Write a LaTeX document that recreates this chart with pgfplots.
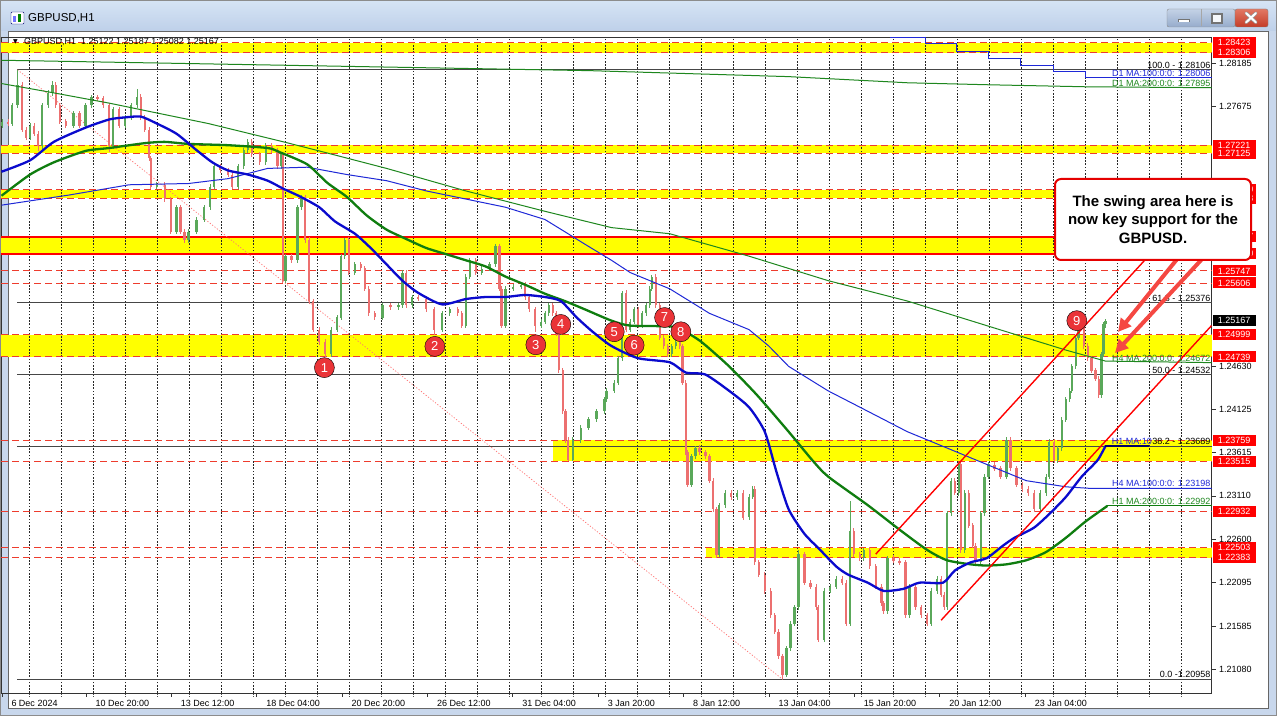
\documentclass[border=0pt]{standalone}
\usepackage{pgfplots}
\usepackage{pgfplotstable}
\pgfplotsset{compat=1.18}
\usepackage{fontspec}
\setmainfont{Liberation Sans}
\newfontfamily\dejavu{DejaVu Sans}
\usetikzlibrary{arrows.meta}
\newcommand\lab{\fontsize{9}{10}\selectfont}

\definecolor{winframe}{RGB}{200,215,236}
\definecolor{titletop}{RGB}{214,228,245}
\definecolor{titlebot}{RGB}{190,208,233}
\definecolor{btntop}{RGB}{196,210,230}
\definecolor{btnbot}{RGB}{150,172,204}
\definecolor{closetop}{RGB}{226,120,100}
\definecolor{closebot}{RGB}{196,60,40}
\definecolor{bandyellow}{RGB}{255,255,0}
\definecolor{lvlred}{RGB}{238,60,45}
\definecolor{candleup}{RGB}{90,168,90}
\definecolor{candledn}{RGB}{236,112,112}
\definecolor{maBlue}{RGB}{10,10,205}
\definecolor{maGreen}{RGB}{15,125,15}
\definecolor{thinBlue}{RGB}{30,40,215}
\definecolor{thinGreen}{RGB}{30,135,30}
\definecolor{circred}{RGB}{234,52,56}
\definecolor{arrowred}{RGB}{245,72,66}
\definecolor{fibgray}{RGB}{70,70,70}

% up candles: x = hour index, o h l c = price
\pgfplotstableread{
x o h l c
1.4 1.27450 1.27529 1.27420 1.27499
8.8 1.27475 1.27720 1.27445 1.27690
12.7 1.27690 1.28106 1.27660 1.27930
22.2 1.27308 1.27481 1.27278 1.27451
31.1 1.27212 1.27720 1.27182 1.27690
35.6 1.27690 1.27864 1.27660 1.27834
39.1 1.27834 1.27977 1.27804 1.27930
54.8 1.27451 1.27625 1.27421 1.27595
63.8 1.27451 1.27720 1.27421 1.27690
68.2 1.27690 1.27816 1.27660 1.27786
84.5 1.27212 1.27672 1.27182 1.27642
93.4 1.27451 1.27577 1.27421 1.27547
97.9 1.27547 1.27720 1.27517 1.27690
102.4 1.27690 1.27882 1.27660 1.27786
117.2 1.26733 1.26790 1.26703 1.26760
132.0 1.26207 1.26524 1.26177 1.26494
141.0 1.26111 1.26237 1.26081 1.26207
146.9 1.26207 1.26380 1.26177 1.26350
152.8 1.26350 1.26524 1.26320 1.26494
157.3 1.26494 1.26763 1.26464 1.26733
160.2 1.26733 1.27003 1.26703 1.26973
178.1 1.26733 1.27003 1.26703 1.26973
182.5 1.26973 1.27194 1.26943 1.27164
185.5 1.27164 1.27290 1.27134 1.27260
198.8 1.27020 1.27242 1.26990 1.27212
210.7 1.26973 1.27146 1.26943 1.27116
213.7 1.25633 1.25950 1.25603 1.25920
222.6 1.25872 1.26524 1.25842 1.26494
225.6 1.26494 1.26638 1.26464 1.26614
247.8 1.24771 1.25089 1.24741 1.25059
252.3 1.25059 1.25232 1.25029 1.25202
255.3 1.25202 1.25950 1.25172 1.25920
258.2 1.25920 1.26135 1.25890 1.26111
265.7 1.25728 1.25854 1.25698 1.25824
286.4 1.25202 1.25376 1.25172 1.25346
298.3 1.25320 1.25376 1.25290 1.25346
301.3 1.25346 1.25758 1.25316 1.25728
308.7 1.25346 1.25471 1.25316 1.25441
331.0 1.25059 1.25280 1.25029 1.25250
336.9 1.25250 1.25328 1.25220 1.25298
348.8 1.25106 1.25711 1.25076 1.25681
351.7 1.25681 1.25902 1.25651 1.25872
360.7 1.25728 1.25806 1.25698 1.25776
366.6 1.25776 1.25854 1.25746 1.25824
371.1 1.25824 1.26063 1.25794 1.26039
378.5 1.25106 1.25567 1.25076 1.25537
384.4 1.25537 1.25590 1.25507 1.25560
390.4 1.25560 1.25615 1.25530 1.25585
405.2 1.25106 1.25184 1.25076 1.25154
408.2 1.25154 1.25280 1.25124 1.25250
411.1 1.25250 1.25376 1.25220 1.25346
429.0 1.23527 1.23797 1.23515 1.23767
434.9 1.23767 1.23940 1.23737 1.23910
440.8 1.23910 1.24036 1.23880 1.24006
446.8 1.24006 1.24132 1.23976 1.24102
452.7 1.24102 1.24275 1.24072 1.24245
454.2 1.24245 1.24371 1.24215 1.24341
460.1 1.24341 1.24466 1.24311 1.24436
463.1 1.24436 1.24754 1.24406 1.24724
466.1 1.24724 1.25513 1.24694 1.25489
472.0 1.25059 1.25184 1.25029 1.25154
475.0 1.25154 1.25328 1.25124 1.25298
480.9 1.25106 1.25280 1.25076 1.25250
483.9 1.25250 1.25376 1.25220 1.25346
486.8 1.25346 1.25567 1.25316 1.25537
488.3 1.25537 1.25705 1.25507 1.25681
503.2 1.24771 1.24897 1.24741 1.24867
506.1 1.24867 1.24945 1.24837 1.24915
518.0 1.23240 1.23605 1.23210 1.23575
521.0 1.23575 1.23701 1.23545 1.23671
538.8 1.22420 1.23031 1.22390 1.23001
543.2 1.23001 1.23175 1.22971 1.23145
552.2 1.23097 1.23175 1.23067 1.23145
561.1 1.22857 1.23127 1.22827 1.23097
564.0 1.23097 1.23222 1.23067 1.23192
589.3 1.21015 1.21356 1.20985 1.21326
592.2 1.21326 1.21643 1.21296 1.21613
595.2 1.21613 1.21835 1.21583 1.21805
598.2 1.21805 1.22475 1.21775 1.22426
617.5 1.21422 1.22026 1.21392 1.21996
621.9 1.21996 1.22074 1.21966 1.22044
626.4 1.22044 1.22170 1.22014 1.22140
636.8 1.21613 1.23049 1.21583 1.22700
647.2 1.22379 1.22505 1.22349 1.22475
665.0 1.21757 1.22409 1.21727 1.22379
681.3 1.21709 1.22074 1.21679 1.22044
697.6 1.21613 1.22026 1.21583 1.21996
702.1 1.21996 1.22170 1.21966 1.22140
709.5 1.21805 1.22935 1.21775 1.22905
712.5 1.22905 1.23318 1.22875 1.23288
718.4 1.23145 1.23509 1.23115 1.23479
722.9 1.22475 1.23175 1.22445 1.23145
734.8 1.22331 1.22935 1.22301 1.22905
737.7 1.22905 1.23366 1.22875 1.23336
740.7 1.23336 1.23509 1.23306 1.23479
754.1 1.23336 1.23797 1.23306 1.23767
779.3 1.22953 1.23175 1.22923 1.23145
783.7 1.23145 1.23366 1.23115 1.23336
786.1 1.23336 1.23773 1.23306 1.23743
792.6 1.23527 1.23701 1.23497 1.23671
795.6 1.23671 1.24036 1.23641 1.24006
798.6 1.24006 1.24275 1.23976 1.24245
801.5 1.24245 1.24371 1.24215 1.24341
803.0 1.24341 1.24658 1.24311 1.24628
806.0 1.24628 1.24993 1.24598 1.24963
808.1 1.24963 1.25130 1.24933 1.25106
825.3 1.24293 1.24802 1.24263 1.24772
826.8 1.24772 1.25152 1.24742 1.25122
828.3 1.25122 1.25187 1.25082 1.25167
}\upc

% down candles
\pgfplotstableread{
x o h l c
5.9 1.27499 1.27529 1.27445 1.27475
16.3 1.27930 1.27960 1.27373 1.27403
19.2 1.27403 1.27433 1.27278 1.27308
25.2 1.27451 1.27481 1.27325 1.27355
28.1 1.27355 1.27385 1.27150 1.27212
41.5 1.27930 1.27960 1.27660 1.27690
44.5 1.27690 1.27720 1.27469 1.27499
48.9 1.27499 1.27529 1.27421 1.27451
59.3 1.27595 1.27625 1.27421 1.27451
72.7 1.27786 1.27816 1.27740 1.27770
77.1 1.27770 1.27800 1.27660 1.27690
81.6 1.27690 1.27720 1.27140 1.27212
89.0 1.27642 1.27672 1.27421 1.27451
105.3 1.27786 1.27816 1.27517 1.27547
108.3 1.27547 1.27577 1.27373 1.27403
111.3 1.27403 1.27433 1.27038 1.27068
112.7 1.27068 1.27098 1.26703 1.26733
123.1 1.26760 1.26790 1.26560 1.26590
127.6 1.26590 1.26620 1.26177 1.26207
135.0 1.26494 1.26524 1.26177 1.26207
138.0 1.26207 1.26237 1.26081 1.26111
164.7 1.26973 1.27003 1.26895 1.26925
170.6 1.26925 1.26955 1.26847 1.26877
173.6 1.26877 1.26907 1.26703 1.26733
188.5 1.27260 1.27290 1.27086 1.27116
194.4 1.27116 1.27146 1.26990 1.27020
203.3 1.27212 1.27242 1.27134 1.27164
207.7 1.27164 1.27194 1.26943 1.26973
211.6 1.27116 1.27146 1.25603 1.25633
218.1 1.25920 1.25950 1.25842 1.25872
228.5 1.26614 1.26644 1.26081 1.26111
231.5 1.26111 1.26141 1.25364 1.25394
234.5 1.25394 1.25424 1.25029 1.25059
238.9 1.25059 1.25089 1.24885 1.24915
243.4 1.24915 1.24945 1.24739 1.24771
261.2 1.26111 1.26141 1.25698 1.25728
270.1 1.25824 1.25854 1.25746 1.25776
273.1 1.25776 1.25806 1.25507 1.25537
276.0 1.25537 1.25567 1.25220 1.25250
280.5 1.25250 1.25280 1.25172 1.25202
292.4 1.25346 1.25376 1.25290 1.25320
304.2 1.25728 1.25758 1.25316 1.25346
313.2 1.25441 1.25471 1.25390 1.25420
319.1 1.25420 1.25450 1.25268 1.25298
325.0 1.25298 1.25328 1.25000 1.25059
342.8 1.25298 1.25328 1.25220 1.25250
345.8 1.25250 1.25280 1.25076 1.25106
356.2 1.25872 1.25902 1.25698 1.25728
374.0 1.26039 1.26069 1.25507 1.25537
375.5 1.25537 1.25567 1.25076 1.25106
393.3 1.25585 1.25615 1.25411 1.25441
396.3 1.25441 1.25471 1.25268 1.25298
400.7 1.25298 1.25328 1.25030 1.25106
414.1 1.25346 1.25376 1.25220 1.25250
416.5 1.25250 1.25280 1.24981 1.25011
418.6 1.25011 1.25041 1.24550 1.24580
421.5 1.24580 1.24610 1.24072 1.24102
423.6 1.24102 1.24132 1.23737 1.23767
425.4 1.23767 1.23797 1.23515 1.23527
469.0 1.25489 1.25519 1.25029 1.25059
477.9 1.25298 1.25328 1.25076 1.25106
491.3 1.25681 1.25711 1.25316 1.25346
494.3 1.25346 1.25376 1.24933 1.24963
497.2 1.24963 1.24993 1.24837 1.24867
500.2 1.24867 1.24897 1.24741 1.24771
509.1 1.24915 1.24999 1.24837 1.24867
511.2 1.24867 1.24897 1.24406 1.24436
513.6 1.24436 1.24466 1.23593 1.23623
515.0 1.23623 1.23653 1.23210 1.23240
524.0 1.23671 1.23701 1.23593 1.23623
528.4 1.23623 1.23653 1.23545 1.23575
531.4 1.23575 1.23605 1.23258 1.23288
534.3 1.23288 1.23318 1.22923 1.22953
536.7 1.22953 1.22983 1.22383 1.22420
547.7 1.23145 1.23175 1.23067 1.23097
556.6 1.23145 1.23175 1.22827 1.22857
565.5 1.23192 1.23222 1.22301 1.22331
568.5 1.22331 1.22361 1.22157 1.22187
572.9 1.22187 1.22217 1.21966 1.21996
577.4 1.21996 1.22026 1.21679 1.21709
580.4 1.21709 1.21739 1.21488 1.21518
583.3 1.21518 1.21548 1.21201 1.21231
586.3 1.21231 1.21261 1.20958 1.21015
602.6 1.22426 1.22456 1.22062 1.22092
607.1 1.22092 1.22122 1.22014 1.22044
611.5 1.22044 1.22074 1.21775 1.21805
613.0 1.21805 1.21835 1.21392 1.21422
630.8 1.22140 1.22170 1.22062 1.22092
633.8 1.22092 1.22122 1.21583 1.21613
639.7 1.22700 1.22730 1.22396 1.22426
644.2 1.22426 1.22456 1.22349 1.22379
651.6 1.22475 1.22505 1.22253 1.22283
656.1 1.22283 1.22313 1.22014 1.22044
660.5 1.22044 1.22074 1.21822 1.21852
662.0 1.21852 1.21882 1.21727 1.21757
669.4 1.22379 1.22420 1.22320 1.22350
673.9 1.22350 1.22380 1.22301 1.22331
678.3 1.22331 1.22361 1.21679 1.21709
685.8 1.22044 1.22074 1.21775 1.21805
690.2 1.21805 1.21835 1.21679 1.21709
694.7 1.21709 1.21739 1.21583 1.21613
705.1 1.22140 1.22170 1.21919 1.21949
707.4 1.21949 1.21979 1.21775 1.21805
715.4 1.23288 1.23318 1.23115 1.23145
719.9 1.23479 1.23509 1.22445 1.22475
725.8 1.23145 1.23175 1.22732 1.22762
728.8 1.22762 1.22792 1.22493 1.22523
730.9 1.22523 1.22553 1.22301 1.22331
745.1 1.23479 1.23509 1.23402 1.23432
749.6 1.23432 1.23462 1.23306 1.23336
757.0 1.23767 1.23797 1.23402 1.23432
761.5 1.23432 1.23462 1.23210 1.23240
765.9 1.23240 1.23270 1.23162 1.23192
770.4 1.23192 1.23222 1.23115 1.23145
774.8 1.23145 1.23175 1.22923 1.22953
789.7 1.23743 1.23773 1.23497 1.23527
812.0 1.25106 1.25136 1.24837 1.24867
815.0 1.24867 1.24897 1.24694 1.24724
817.9 1.24724 1.24754 1.24550 1.24580
820.9 1.24580 1.24610 1.24454 1.24484
823.2 1.24484 1.24514 1.24263 1.24293
}\dnc

\begin{document}
\begin{tikzpicture}[x=1pt,y=1pt,
  mal/.style={anchor=base east, inner sep=0.5pt, font=\lab, yshift=1.5pt},
  ptag/.style={anchor=west, fill=red, text=white, font=\lab, inner sep=0pt, minimum width=43pt, minimum height=11pt},
  num/.style={text=white, font=\fontsize{13}{13}\selectfont, inner sep=0pt}]
\useasboundingbox (0,0) rectangle (1277,716);
% window frame and title bar
\fill[winframe] (0,0) rectangle (1277,716);
\shade[top color=titletop, bottom color=titlebot] (0,685) rectangle (1277,716);
\draw[black!45] (0.5,0.5) rectangle (1276.5,715.5);
\fill[white] (9,8) rectangle (1268,684);
\draw[black!60] (8.5,7.5) rectangle (1268.5,684.5);
% title icon and text
\draw[fill=white, draw=blue!45!black, rounded corners=1pt] (11,692) rectangle (24,704);
\fill[blue!55] (13,694) rectangle (16,700);
\fill[green!50!black] (17.5,694) rectangle (20.5,702);
\node[anchor=west, inner sep=0pt, font=\fontsize{11.5}{12}\selectfont] at (28,697.5) {GBPUSD,H1};
% window buttons
\shade[top color=btntop, bottom color=btnbot, draw=black!45, rounded corners=2pt] (1167,689) rectangle (1235,707);
\draw[black!35] (1201,689.5) -- (1201,706.5);
\shade[top color=closetop, bottom color=closebot, draw=black!50, rounded corners=2pt] (1235,689) rectangle (1268,707);
\draw[line width=3pt, black!55] (1178,695) -- (1190,695);
\draw[line width=1.8pt, white] (1178.8,695) -- (1189.2,695);
\draw[line width=1.2pt, black!55, fill=white!85!btntop] (1212,693) rectangle (1222,702);
\draw[line width=3.4pt, black!40, line cap=round] (1246,693.5) -- (1256,703) (1246,703) -- (1256,693.5);
\draw[line width=2pt, white, line cap=round] (1246,693.5) -- (1256,703) (1246,703) -- (1256,693.5);

\begin{axis}[
  at={(11,27)}, anchor=south west,
  scale only axis, width=1210pt, height=656pt,
  xmin=0.75, xmax=907.8, ymin=1.20799, ymax=1.28490,
  clip=false,
  axis line style={draw=black!80, line width=0.8pt},
  tick align=outside,
  major tick length=4pt, minor tick length=4pt,
  tick style={black!80, line width=0.6pt},
  xtick={1,64,128,192,256,320,384,448,512,576,640,704,768},
  xticklabels={6 Dec 2024,10 Dec 20:00,13 Dec 12:00,18 Dec 04:00,20 Dec 20:00,26 Dec 12:00,31 Dec 04:00,3 Jan 20:00,8 Jan 12:00,13 Jan 04:00,15 Jan 20:00,20 Jan 12:00,23 Jan 04:00},
  xtick pos=bottom,
  xticklabel style={anchor=north west, font=\lab, inner xsep=0pt, xshift=9.5pt},
  minor xtick={21.74,45.73,69.72,93.71,117.70,141.69,165.68,189.67,213.66,237.65,261.64,285.63,309.62,333.61,357.60,381.59,405.58,429.57,453.56,477.55,501.54,525.53,549.52,573.51,597.50,621.49,645.48,669.47,693.46,717.45,741.44,765.43,789.42,813.41,837.40,861.39,885.38},
  minor tick style={black!70, dash pattern=on 1.2pt off 1.2pt},
  ytick={1.21080,1.21585,1.22095,1.22600,1.23110,1.23615,1.24125,1.24630,1.27675,1.28185},
  yticklabels={1.21080,1.21585,1.22095,1.22600,1.23110,1.23615,1.24125,1.24630,1.27675,1.28185},
  ytick pos=right,
  yticklabel style={anchor=west, font=\lab},
  band/.style={bandyellow},
  lvl/.style={lvlred, line width=0.9pt, dash pattern=on 7pt off 4pt},
  fibl/.style={fibgray, line width=0.8pt},
  gridl/.style={black!85, line width=1pt, dash pattern=on 1.6pt off 1.6pt},
]
% yellow zones (line width = zone height in px)
\addplot[band, line width=9.98pt] coordinates {(0.75,1.283645) (907.8,1.283645)};
\addplot[band, line width=8.19pt] coordinates {(0.75,1.27173) (907.8,1.27173)};
\addplot[band, line width=8.70pt] coordinates {(0.75,1.26649) (907.8,1.26649)};
\addplot[band, line width=16.80pt] coordinates {(0.75,1.260485) (907.8,1.260485)};
\addplot[band, line width=22.18pt] coordinates {(0.75,1.24869) (907.8,1.24869)};
\addplot[band, line width=20.81pt] coordinates {(414.5,1.23637) (907.8,1.23637)};
\addplot[band, line width=10.24pt] coordinates {(529.2,1.22443) (907.8,1.22443)};
% vertical dotted grid
\pgfplotsinvokeforeach{21.74,45.73,69.72,93.71,117.70,141.69,165.68,189.67,213.66,237.65,261.64,285.63,309.62,333.61,357.60,381.59,405.58,429.57,453.56,477.55,501.54,525.53,549.52,573.51,597.50,621.49,645.48,669.47,693.46,717.45,741.44,765.43,789.42,813.41,837.40,861.39,885.38}{
  \addplot[gridl] coordinates {(#1,1.20799) (#1,1.28490)};
}
% level lines
\pgfplotsinvokeforeach{1.28423,1.28306,1.27221,1.27125,1.26700,1.26598,1.25747,1.25606,1.24999,1.24739,1.23759,1.23515,1.22932,1.22503,1.22383}{
  \addplot[lvl] coordinates {(0.75,#1) (907.8,#1)};
}
\addplot[red, line width=2.2pt] coordinates {(0.75,1.26147) (907.8,1.26147)};
\addplot[red, line width=2.2pt] coordinates {(0.75,1.25950) (907.8,1.25950)};
% fibonacci levels and trend line
\pgfplotsinvokeforeach{1.28106,1.25376,1.24532,1.23689,1.20958}{
  \addplot[fibl] coordinates {(12.7,#1) (907.8,#1)};
}
\addplot[red!55, line width=0.7pt, dash pattern=on 1.2pt off 1.8pt] coordinates {(12.7,1.28106) (586.3,1.20958)};

% candles
\addplot[draw=none, mark=none, error bars/.cd, y dir=both, y explicit,
  error mark=none, error bar style={draw=candleup, line width=0.9pt}]
  table[x=x, y expr=(\thisrow{h}+\thisrow{l})/2, y error expr=(\thisrow{h}-\thisrow{l})/2] {\upc};
\addplot[draw=none, mark=none, error bars/.cd, y dir=both, y explicit,
  error mark=none, error bar style={draw=candleup, line width=2.3pt}]
  table[x=x, y expr=(\thisrow{o}+\thisrow{c})/2, y error expr=abs(\thisrow{c}-\thisrow{o})/2] {\upc};
\addplot[draw=none, mark=none, error bars/.cd, y dir=both, y explicit,
  error mark=none, error bar style={draw=candledn, line width=0.9pt}]
  table[x=x, y expr=(\thisrow{h}+\thisrow{l})/2, y error expr=(\thisrow{h}-\thisrow{l})/2] {\dnc};
\addplot[draw=none, mark=none, error bars/.cd, y dir=both, y explicit,
  error mark=none, error bar style={draw=candledn, line width=2.3pt}]
  table[x=x, y expr=(\thisrow{o}+\thisrow{c})/2, y error expr=abs(\thisrow{c}-\thisrow{o})/2] {\dnc};

% D1 moving averages
\addplot[thinGreen, line width=1pt] coordinates {(0.75,1.28217) (442,1.28095) (590.8,1.28025) (679.8,1.27953) (739.2,1.27930) (813.4,1.27906) (907.8,1.27895)};
\addplot[thinBlue, line width=1pt, const plot] coordinates {(667,1.28482) (693.2,1.28408) (716.9,1.28322) (740.7,1.28241) (764.4,1.28159) (789.7,1.28087) (813.4,1.28010) (907.8,1.28010)};
% H4 moving averages
\addplot[thinGreen, line width=1pt] coordinates {(0.75,1.27944) (37.0,1.27843) (81.6,1.27714) (111.3,1.27618) (155.8,1.27475) (212.2,1.27260) (238.9,1.27154) (289.4,1.26949) (348.8,1.26685) (408.1,1.26446) (458.0,1.26255) (501.7,1.26183) (561.1,1.25920) (620.4,1.25633) (679.8,1.25394) (739.2,1.25106) (798.6,1.24819) (828.3,1.24690) (907.8,1.24672)};
\addplot[thinBlue, line width=1pt] coordinates {(0.75,1.26518) (51.9,1.26638) (96.4,1.26757) (141.0,1.26772) (170.6,1.26829) (200.3,1.26949) (230.0,1.26963) (259.7,1.26877) (289.4,1.26805) (319.1,1.26685) (348.8,1.26590) (378.5,1.26494) (408.1,1.26350) (423.0,1.26207) (437.8,1.26063) (458.0,1.25872) (472.0,1.25728) (501.7,1.25537) (531.4,1.25250) (561.1,1.25059) (575.9,1.24867) (590.8,1.24628) (620.4,1.24341) (650.1,1.24102) (679.8,1.23862) (709.5,1.23671) (739.2,1.23479) (768.9,1.23288) (798.6,1.23216) (816.4,1.23198) (907.8,1.23198)};
% H1 moving averages
\addplot[maGreen, line width=2.3pt, line join=round, smooth, tension=0.4] coordinates {(0.75,1.26628) (22.2,1.26877) (40.0,1.27020) (63.8,1.27154) (81.6,1.27188) (108.3,1.27245) (123.1,1.27260) (141.0,1.27236) (170.6,1.27221) (200.3,1.27188) (209.2,1.27140) (230.0,1.26996) (244.9,1.26781) (259.7,1.26614) (274.5,1.26398) (289.4,1.26231) (304.2,1.26121) (319.1,1.26016) (333.9,1.25944) (348.8,1.25872) (363.6,1.25800) (378.5,1.25681) (393.3,1.25585) (408.1,1.25480) (423.0,1.25394) (437.8,1.25298) (458.0,1.25164) (472.0,1.25106) (501.7,1.25097) (510.6,1.25059) (525.4,1.24915) (546.2,1.24628) (567.0,1.24293) (590.8,1.23862) (608.6,1.23527) (620.4,1.23336) (650.1,1.23001) (673.9,1.22714) (694.7,1.22475) (709.5,1.22355) (727.3,1.22307) (739.2,1.22293) (754.0,1.22307) (768.9,1.22355) (783.7,1.22451) (798.6,1.22618) (813.4,1.22810) (829.7,1.22992)};
\addplot[maGreen, line width=1pt] coordinates {(829.7,1.22992) (907.8,1.22992)};
\addplot[maBlue, line width=2.3pt, line join=round, smooth, tension=0.4] coordinates {(0.75,1.26910) (22.2,1.27044) (40.0,1.27260) (63.8,1.27427) (81.6,1.27523) (93.4,1.27547) (105.3,1.27556) (117.2,1.27475) (132.0,1.27355) (146.9,1.27164) (158.8,1.27020) (170.6,1.26925) (185.5,1.26877) (200.3,1.26805) (212.2,1.26709) (224.1,1.26623) (238.9,1.26494) (250.8,1.26327) (265.7,1.26183) (277.5,1.26016) (289.4,1.25824) (301.3,1.25633) (313.2,1.25489) (331.0,1.25355) (348.8,1.25417) (363.6,1.25441) (378.5,1.25441) (393.3,1.25465) (408.1,1.25441) (420.0,1.25394) (431.9,1.25202) (443.8,1.25035) (458.0,1.24867) (477.9,1.24724) (501.7,1.24676) (513.6,1.24556) (528.4,1.24532) (546.2,1.24341) (561.1,1.24149) (572.9,1.23862) (581.8,1.23384) (590.8,1.22953) (602.6,1.22666) (614.5,1.22475) (626.4,1.22283) (635.3,1.22187) (650.1,1.22092) (662.0,1.21996) (676.9,1.22020) (688.7,1.22092) (706.5,1.22092) (715.4,1.22235) (727.3,1.22331) (739.2,1.22379) (751.1,1.22522) (760.0,1.22618) (774.8,1.22738) (786.7,1.22905) (798.6,1.23097) (810.5,1.23336) (822.3,1.23527) (828.3,1.23695)};
\addplot[blue!40!black, line width=1.6pt] coordinates {(828.3,1.23695) (860.9,1.23695)};

% channel lines
\addplot[red, line width=1.4pt] coordinates {(656.1,1.22427) (862,1.25946)};
\addplot[red, line width=1.4pt] coordinates {(705.1,1.21652) (907.8,1.25106)};

% swing points
\addplot[only marks, mark=*, mark size=10pt, mark options={draw=none, fill=circred}] coordinates {(242.8,1.24613) (325.6,1.24862) (401.3,1.24881) (420.0,1.25120) (460.1,1.25034) (475.0,1.24877) (497.8,1.25201) (510.0,1.25034) (806.8,1.25164)};
\coordinate (n1) at (axis cs:242.8,1.24613);
\coordinate (n2) at (axis cs:325.6,1.24862);
\coordinate (n3) at (axis cs:401.3,1.24881);
\coordinate (n4) at (axis cs:420.0,1.25120);
\coordinate (n5) at (axis cs:460.1,1.25034);
\coordinate (n6) at (axis cs:475.0,1.24877);
\coordinate (n7) at (axis cs:497.8,1.25201);
\coordinate (n8) at (axis cs:510.0,1.25034);
\coordinate (n9) at (axis cs:806.8,1.25164);

% level labels
\node[mal, text=black] at (axis cs:907.5,1.28106) {100.0 - 1.28106};
\node[mal, text=thinBlue] at (axis cs:907.5,1.28006) {D1 MA:100:0:0: 1.28006};
\node[mal, text=thinGreen] at (axis cs:907.5,1.27895) {D1 MA:200:0:0: 1.27895};
\node[mal, text=black] at (axis cs:907.5,1.25376) {61.8 - 1.25376};
\node[mal, text=thinGreen] at (axis cs:907.5,1.24672) {H4 MA:200:0:0: 1.24672};
\node[mal, text=black] at (axis cs:907.5,1.24532) {50.0 - 1.24532};
\node[mal, text=thinBlue, xshift=-58.5pt] at (axis cs:907.5,1.23695) {H1 MA:10};
\node[mal, text=black] at (axis cs:907.5,1.23689) {38.2 - 1.23689};
\node[mal, text=thinBlue] at (axis cs:907.5,1.23198) {H4 MA:100:0:0: 1.23198};
\node[mal, text=thinGreen] at (axis cs:907.5,1.22992) {H1 MA:200:0:0: 1.22992};
\node[mal, text=black] at (axis cs:907.5,1.20958) {0.0 -1.20958};

% price tags on the right scale
\pgfplotsinvokeforeach{1.28423,1.28306,1.27221,1.27125,1.25747,1.25606,1.24999,1.24739,1.23759,1.23515,1.22932,1.22503,1.22383}{
  \node[ptag] at (axis cs:908.5,#1) {#1};
}
\node[ptag, fill=black] at (axis cs:908.5,1.25167) {1.25167};
% tags partly hidden behind the callout: only their last digits show
\node[ptag] at (axis cs:908.5,1.26700) {};
\node[ptag] at (axis cs:908.5,1.26598) {};
\node[ptag] at (axis cs:908.5,1.26147) {};
\node[ptag] at (axis cs:908.5,1.25950) {};
\node[anchor=east, text=white, font=\lab, inner sep=0pt, xshift=41pt] at (axis cs:908.5,1.26700) {00};
\node[anchor=east, text=white, font=\lab, inner sep=0pt, xshift=41pt] at (axis cs:908.5,1.26598) {98};
\node[anchor=east, text=white, font=\lab, inner sep=0pt, xshift=41pt] at (axis cs:908.5,1.26147) {47};
\node[anchor=east, text=white, font=\lab, inner sep=0pt, xshift=41pt] at (axis cs:908.5,1.25950) {50};
\end{axis}

% numbers in the swing circles
\node[num] at (n1) {1};
\node[num] at (n2) {2};
\node[num] at (n3) {3};
\node[num] at (n4) {4};
\node[num] at (n5) {5};
\node[num] at (n6) {6};
\node[num] at (n7) {7};
\node[num] at (n8) {8};
\node[num] at (n9) {9};

% chart header
\node[anchor=west, inner sep=0pt, font=\dejavu\fontsize{6}{6}\selectfont] at (13,674.5) {▼};
\node[anchor=west, inner sep=0pt, font=\lab] at (24,674.5) {GBPUSD,H1\ \ 1.25122 1.25187 1.25082 1.25167};

% arrows and callout
\draw[arrowred, line width=4pt, -{Triangle[length=13pt, width=13pt]}] (1178,458) -- (1118,384);
\draw[arrowred, line width=4pt, -{Triangle[length=13pt, width=13pt]}] (1203,458) -- (1115,363);
\draw[red!90!black, line width=2pt, fill=white, rounded corners=6pt] (1055,456) rectangle (1251,537);
\node[align=center, font=\bfseries\fontsize{15}{18.5}\selectfont] at (1153,496.5) {The swing area here is\\now key support for the\\GBPUSD.};
\end{tikzpicture}
\end{document}
